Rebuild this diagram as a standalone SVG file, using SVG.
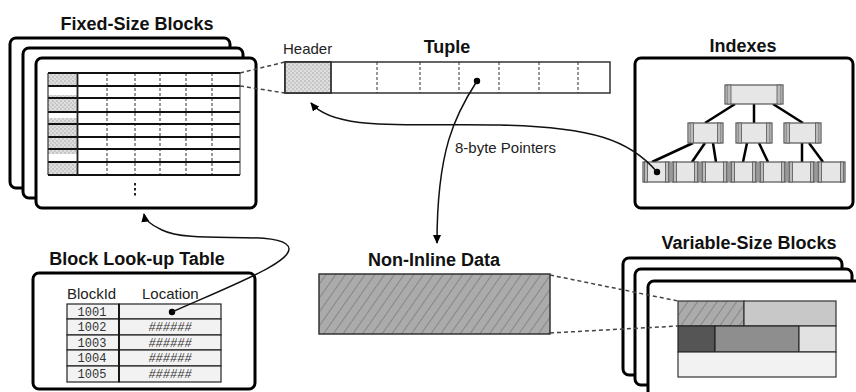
<svg xmlns="http://www.w3.org/2000/svg" width="856" height="392" viewBox="0 0 856 392">
  <style>
    .title { font-family: "Liberation Sans", Arial, sans-serif; font-weight: bold; font-size: 18px; fill: #111; text-anchor: middle; }
    .label { font-family: "Liberation Sans", Arial, sans-serif; font-size: 15px; fill: #222; }
    .mono { font-family: "Liberation Mono", "DejaVu Sans Mono", monospace; font-size: 12px; fill: #333; text-anchor: middle; }
    .card { fill: #fff; stroke: #000; stroke-width: 3; }
    .thin { fill: none; stroke: #222; stroke-width: 1; }
    .row { stroke: #111; stroke-width: 2; }
    .dash { stroke: #333; stroke-width: 1; stroke-dasharray: 3 2; }
    .guide { stroke: #444; stroke-width: 1.5; stroke-dasharray: 4 3; fill: none; }
    .wire { fill: none; stroke: #111; stroke-width: 1.5; }
    .edge { stroke: #000; stroke-width: 2.5; }
    .node { fill: #e6e6e6; stroke: #555; stroke-width: 1.2; }
    .side { fill: #bbb; stroke: #555; stroke-width: 0.8; }
    .cell { fill: #f2f2f2; stroke: #222; stroke-width: 1.2; }
  </style>
  <defs>
    <pattern id="dots" width="4" height="4" patternUnits="userSpaceOnUse">
      <rect width="4" height="4" fill="#dedede"/>
      <circle cx="1" cy="1" r="0.7" fill="#999"/>
      <circle cx="3" cy="3" r="0.7" fill="#aaa"/>
    </pattern>
    <pattern id="hatch" width="8" height="8" patternUnits="userSpaceOnUse" patternTransform="rotate(35)">
      <rect width="8" height="8" fill="#ababab"/>
      <line x1="0" y1="0" x2="0" y2="8" stroke="#7d7d7d" stroke-width="1.6"/>
    </pattern>
    <marker id="arrow" markerWidth="9" markerHeight="8" refX="8" refY="4" orient="auto" markerUnits="userSpaceOnUse">
      <path d="M0,0 L9,4 L0,8 Z" fill="#000"/>
    </marker>
  </defs>

  <!-- Fixed-size blocks stack with slot grid -->
  <g id="fixed-size-blocks">
    <text class="title" x="137" y="30">Fixed-Size Blocks</text>
    <rect class="card" x="10" y="38" width="220" height="150" rx="6"/>
    <rect class="card" x="23" y="48" width="220" height="150" rx="6"/>
    <rect class="card" x="36" y="58" width="220" height="150" rx="6"/>
    <!-- header cells -->
    <rect x="48" y="73" width="29" height="13" fill="url(#dots)"/>
    <rect x="48" y="95" width="29" height="3" fill="url(#dots)"/>
    <rect x="48" y="98" width="29" height="14" fill="url(#dots)"/>
    <rect x="48" y="118" width="29" height="6" fill="url(#dots)"/>
    <rect x="48" y="124" width="29" height="13" fill="url(#dots)"/>
    <rect x="48" y="137" width="29" height="12" fill="url(#dots)"/>
    <rect x="48" y="149" width="29" height="5" fill="url(#dots)"/>
    <rect x="48" y="162" width="29" height="13" fill="url(#dots)"/>
    <!-- dashed column separators -->
    <g class="dash">
      <line x1="107" y1="73" x2="107" y2="175"/>
      <line x1="135" y1="73" x2="135" y2="175"/>
      <line x1="160" y1="73" x2="160" y2="175"/>
      <line x1="186" y1="73" x2="186" y2="175"/>
      <line x1="212" y1="73" x2="212" y2="175"/>
    </g>
    <g class="row">
      <line x1="48" y1="73" x2="240" y2="73"/>
      <line x1="48" y1="86" x2="240" y2="86"/>
      <line x1="48" y1="98" x2="240" y2="98"/>
      <line x1="48" y1="112" x2="240" y2="112"/>
      <line x1="48" y1="124" x2="240" y2="124"/>
      <line x1="48" y1="137" x2="240" y2="137"/>
      <line x1="48" y1="149" x2="240" y2="149"/>
      <line x1="48" y1="162" x2="240" y2="162"/>
      <line x1="48" y1="175" x2="240" y2="175"/>
    </g>
    <line x1="48" y1="73" x2="48" y2="175" stroke="#333" stroke-width="1.2"/>
    <line x1="77.5" y1="73" x2="77.5" y2="175" stroke="#222" stroke-width="1.8"/>
    <line x1="240" y1="73" x2="240" y2="175" stroke="#333" stroke-width="1"/>
    <!-- continuation marks -->
    <g fill="#222">
      <rect x="134" y="183" width="2" height="2.5"/>
      <rect x="134" y="188" width="2" height="2.5"/>
      <rect x="134" y="193" width="2" height="2.5"/>
    </g>
  </g>

  <!-- Tuple layout -->
  <g id="tuple">
    <text class="title" x="447" y="53">Tuple</text>
    <text class="label" x="283" y="54" font-size="14.5">Header</text>
    <rect x="285" y="62" width="325" height="31" fill="#fff" stroke="#333" stroke-width="1.5"/>
    <rect x="285" y="62" width="46" height="31" fill="url(#dots)" stroke="#333" stroke-width="1.8"/>
    <g class="dash">
      <line x1="377" y1="62" x2="377" y2="93"/>
      <line x1="420" y1="62" x2="420" y2="93"/>
      <line x1="459" y1="62" x2="459" y2="93"/>
      <line x1="499" y1="62" x2="499" y2="93"/>
      <line x1="539" y1="62" x2="539" y2="93"/>
      <line x1="578" y1="62" x2="578" y2="93"/>
    </g>
    <circle cx="477" cy="81" r="3.2" fill="#000"/>
  </g>

  <!-- B-tree index -->
  <g id="indexes">
    <text class="title" x="743" y="52" font-size="18.5">Indexes</text>
    <rect class="card" x="635" y="58" width="218" height="150" rx="6"/>
    <g class="edge">
      <line x1="735" y1="104" x2="705" y2="123"/>
      <line x1="754" y1="104" x2="754" y2="123"/>
      <line x1="773" y1="104" x2="803" y2="123"/>
      <line x1="693" y1="143" x2="652" y2="162"/>
      <line x1="705" y1="143" x2="692" y2="162"/>
      <line x1="713" y1="143" x2="716" y2="162"/>
      <line x1="747" y1="143" x2="743" y2="162"/>
      <line x1="759" y1="143" x2="768" y2="162"/>
      <line x1="802" y1="143" x2="802" y2="162"/>
      <line x1="809" y1="143" x2="823" y2="162"/>
    </g>
    <!-- root -->
    <rect class="node" x="725" y="85" width="58" height="19"/>
    <rect class="side" x="727" y="85" width="4" height="19"/>
    <rect class="side" x="777" y="85" width="4" height="19"/>
    <!-- inner nodes -->
    <rect class="node" x="688" y="123" width="35" height="20"/>
    <rect class="side" x="690" y="123" width="3.5" height="20"/>
    <rect class="side" x="717.5" y="123" width="3.5" height="20"/>
    <rect class="node" x="736" y="123" width="36" height="20"/>
    <rect class="side" x="738" y="123" width="3.5" height="20"/>
    <rect class="side" x="766.5" y="123" width="3.5" height="20"/>
    <rect class="node" x="784" y="123" width="37" height="20"/>
    <rect class="side" x="786" y="123" width="3.5" height="20"/>
    <rect class="side" x="815.5" y="123" width="3.5" height="20"/>
    <!-- leaves -->
    <g id="leaves">
      <rect class="node" x="643" y="162" width="27" height="20"/>
      <rect class="side" x="644.5" y="162" width="3" height="20"/>
      <rect class="side" x="665.5" y="162" width="3" height="20"/>
      <rect class="node" x="672" y="162" width="27" height="20"/>
      <rect class="side" x="673.5" y="162" width="3" height="20"/>
      <rect class="side" x="694.5" y="162" width="3" height="20"/>
      <rect class="node" x="701" y="162" width="27" height="20"/>
      <rect class="side" x="702.5" y="162" width="3" height="20"/>
      <rect class="side" x="723.5" y="162" width="3" height="20"/>
      <rect class="node" x="730" y="162" width="27" height="20"/>
      <rect class="side" x="731.5" y="162" width="3" height="20"/>
      <rect class="side" x="752.5" y="162" width="3" height="20"/>
      <rect class="node" x="759" y="162" width="27" height="20"/>
      <rect class="side" x="760.5" y="162" width="3" height="20"/>
      <rect class="side" x="781.5" y="162" width="3" height="20"/>
      <rect class="node" x="788" y="162" width="27" height="20"/>
      <rect class="side" x="789.5" y="162" width="3" height="20"/>
      <rect class="side" x="810.5" y="162" width="3" height="20"/>
      <rect class="node" x="817" y="162" width="28" height="20"/>
      <rect class="side" x="818.5" y="162" width="3" height="20"/>
      <rect class="side" x="840.5" y="162" width="3" height="20"/>
    </g>
    <circle cx="657" cy="172" r="3.2" fill="#000"/>
  </g>

  <!-- Block look-up table -->
  <g id="block-lookup-table">
    <text class="title" x="137" y="265">Block Look-up Table</text>
    <rect class="card" x="33" y="273" width="222" height="116" rx="6"/>
    <text class="label" x="67" y="299">BlockId</text>
    <text class="label" x="142" y="299">Location</text>
    <rect class="cell" x="67" y="304" width="52" height="15"/>
    <rect class="cell" x="119" y="304" width="102" height="15"/>
    <rect class="cell" x="67" y="319" width="52" height="16"/>
    <rect class="cell" x="119" y="319" width="102" height="16"/>
    <rect class="cell" x="67" y="335" width="52" height="15"/>
    <rect class="cell" x="119" y="335" width="102" height="15"/>
    <rect class="cell" x="67" y="350" width="52" height="16"/>
    <rect class="cell" x="119" y="350" width="102" height="16"/>
    <rect class="cell" x="67" y="366" width="52" height="16"/>
    <rect class="cell" x="119" y="366" width="102" height="16"/>
    <line x1="119" y1="304" x2="119" y2="382" stroke="#111" stroke-width="1.8"/>
    <text class="mono" x="92" y="316">1001</text>
    <text class="mono" x="92" y="331">1002</text>
    <text class="mono" x="92" y="347">1003</text>
    <text class="mono" x="92" y="362">1004</text>
    <text class="mono" x="92" y="378">1005</text>
    <text class="mono" x="170" y="331" font-style="italic" font-size="11">######</text>
    <text class="mono" x="170" y="347" font-style="italic" font-size="11">######</text>
    <text class="mono" x="170" y="362" font-style="italic" font-size="11">######</text>
    <text class="mono" x="170" y="378" font-style="italic" font-size="11">######</text>
    <circle cx="172" cy="312" r="3.2" fill="#000"/>
  </g>

  <!-- Non-inline data -->
  <g id="non-inline-data">
    <text class="title" x="434" y="266" font-size="19">Non-Inline Data</text>
    <rect x="319" y="274" width="231" height="60" fill="url(#hatch)" stroke="#333" stroke-width="1.5"/>
  </g>

  <!-- Variable-size blocks stack -->
  <g id="variable-size-blocks">
    <text class="title" x="749" y="249">Variable-Size Blocks</text>
    <rect class="card" x="623" y="258" width="219" height="117" rx="6"/>
    <rect class="card" x="635" y="269" width="217" height="116" rx="6"/>
    <rect class="card" x="648" y="281" width="230" height="130" rx="6"/>
    <rect x="678" y="301" width="66" height="25" fill="url(#hatch)" stroke="#333" stroke-width="1.2"/>
    <rect x="744" y="301" width="92" height="25" fill="#c8c8c8" stroke="#333" stroke-width="1.2"/>
    <rect x="678" y="326" width="37" height="26" fill="#555" stroke="#222" stroke-width="1.2"/>
    <rect x="715" y="326" width="84" height="26" fill="#8e8e8e" stroke="#222" stroke-width="1.2"/>
    <rect x="799" y="326" width="37" height="26" fill="#e2e2e2" stroke="#333" stroke-width="1.2"/>
    <rect x="678" y="352" width="158" height="25" fill="#f2f2f2" stroke="#333" stroke-width="1.2"/>
  </g>

  <!-- Connectors -->
  <g id="connectors">
    <line class="guide" x1="240" y1="73" x2="285" y2="62"/>
    <line class="guide" x1="240" y1="86" x2="285" y2="93"/>
    <line class="guide" x1="550" y1="275" x2="678" y2="301"/>
    <line class="guide" x1="550" y1="333" x2="678" y2="326"/>
    <path class="wire" d="M477,81 C455,115 437,150 437,243" marker-end="url(#arrow)"/>
    <path class="wire" d="M657,172 C630,140 592,127 500,125 C410,123 335,132 311,103" marker-end="url(#arrow)"/>
    <path class="wire" d="M172,312 C230,286 305,258 286,244 C268,231 190,244 162,230 C150,224 145,220 144,214" marker-end="url(#arrow)"/>
    <text class="label" x="455" y="153">8-byte Pointers</text>
  </g>
</svg>
